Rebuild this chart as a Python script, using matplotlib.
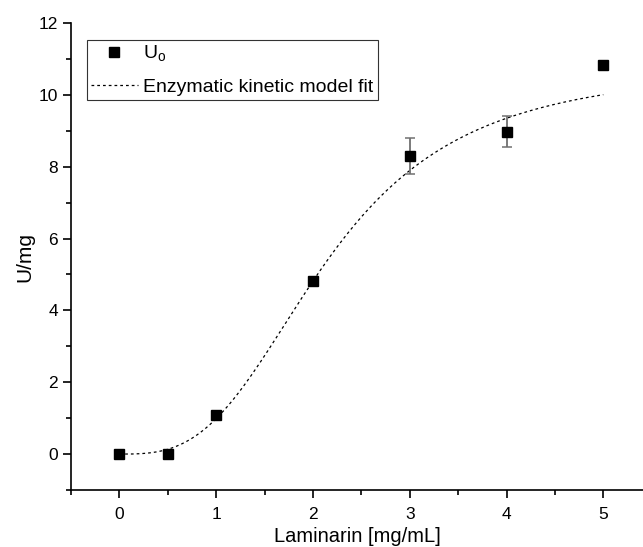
import numpy as np
import matplotlib.pyplot as plt
from matplotlib.ticker import MultipleLocator

plt.rcParams['font.family'] = ['Liberation Sans', 'DejaVu Sans']
plt.rcParams['mathtext.fontset'] = 'custom'
plt.rcParams['mathtext.rm'] = 'Liberation Sans'

# Measured activity
laminarin = [0, 0.5, 1, 2, 3, 4, 5]
activity = [0.0, 0.0, 1.09, 4.83, 8.30, 8.97, 10.83]
activity_err = [0, 0, 0, 0, 0.51, 0.43, 0]

# Enzymatic kinetic model (Hill type) fit parameters
v_max = 10.8
k_half = 2.15
hill_n = 3.0

fig = plt.figure(figsize=(6.43, 5.47), dpi=100)
ax = fig.add_axes([71 / 643, 57 / 547, 1 - 71 / 643, (490 - 23) / 547])

# Fit curve
s = np.linspace(0, 5, 300)
fit = v_max * s**hill_n / (k_half**hill_n + s**hill_n)
ax.plot(s, fit, color='black', lw=0.9, ls=(0, (2.2, 2.4)),
        label='Enzymatic kinetic model fit')

# Data points with error bars
err = np.array(activity_err)
ax.errorbar(laminarin, activity, yerr=np.where(err > 0, err, np.nan),
            fmt='none', ecolor='#707070', elinewidth=1.3, capsize=3.8, capthick=1.1)
ax.plot(laminarin, activity, 's', color='black', ms=7.4, ls='none',
        label=r'U$_\mathrm{o}$')

ax.set_xlim(-0.5, 5.41)
ax.set_ylim(-1, 12)
ax.xaxis.set_major_locator(MultipleLocator(1))
ax.xaxis.set_minor_locator(MultipleLocator(0.5))
ax.yaxis.set_major_locator(MultipleLocator(2))
ax.yaxis.set_minor_locator(MultipleLocator(1))
ax.tick_params(which='major', direction='out', length=6, width=1.2, labelsize=12.5)
ax.tick_params(which='minor', direction='out', length=3.6, width=1.2)
ax.tick_params(axis='x', which='major', pad=6)

for side in ['top', 'right']:
    ax.spines[side].set_visible(False)
for side in ['left', 'bottom']:
    ax.spines[side].set_linewidth(1.2)

ax.set_xlabel('Laminarin [mg/mL]', fontsize=14.5, labelpad=4)
ax.set_ylabel('U/mg', fontsize=15, labelpad=3)

handles, labels = ax.get_legend_handles_labels()
leg = ax.legend(handles[::-1], labels[::-1], loc='upper left',
                bbox_to_anchor=(0.028, 0.964), fontsize=14, frameon=True,
                fancybox=False, edgecolor='#333333', framealpha=1,
                handlelength=2.4, handletextpad=0.3, borderpad=0.2,
                labelspacing=0.75, borderaxespad=0)
leg.get_frame().set_linewidth(0.8)

fig.savefig('out.png', dpi=100)
